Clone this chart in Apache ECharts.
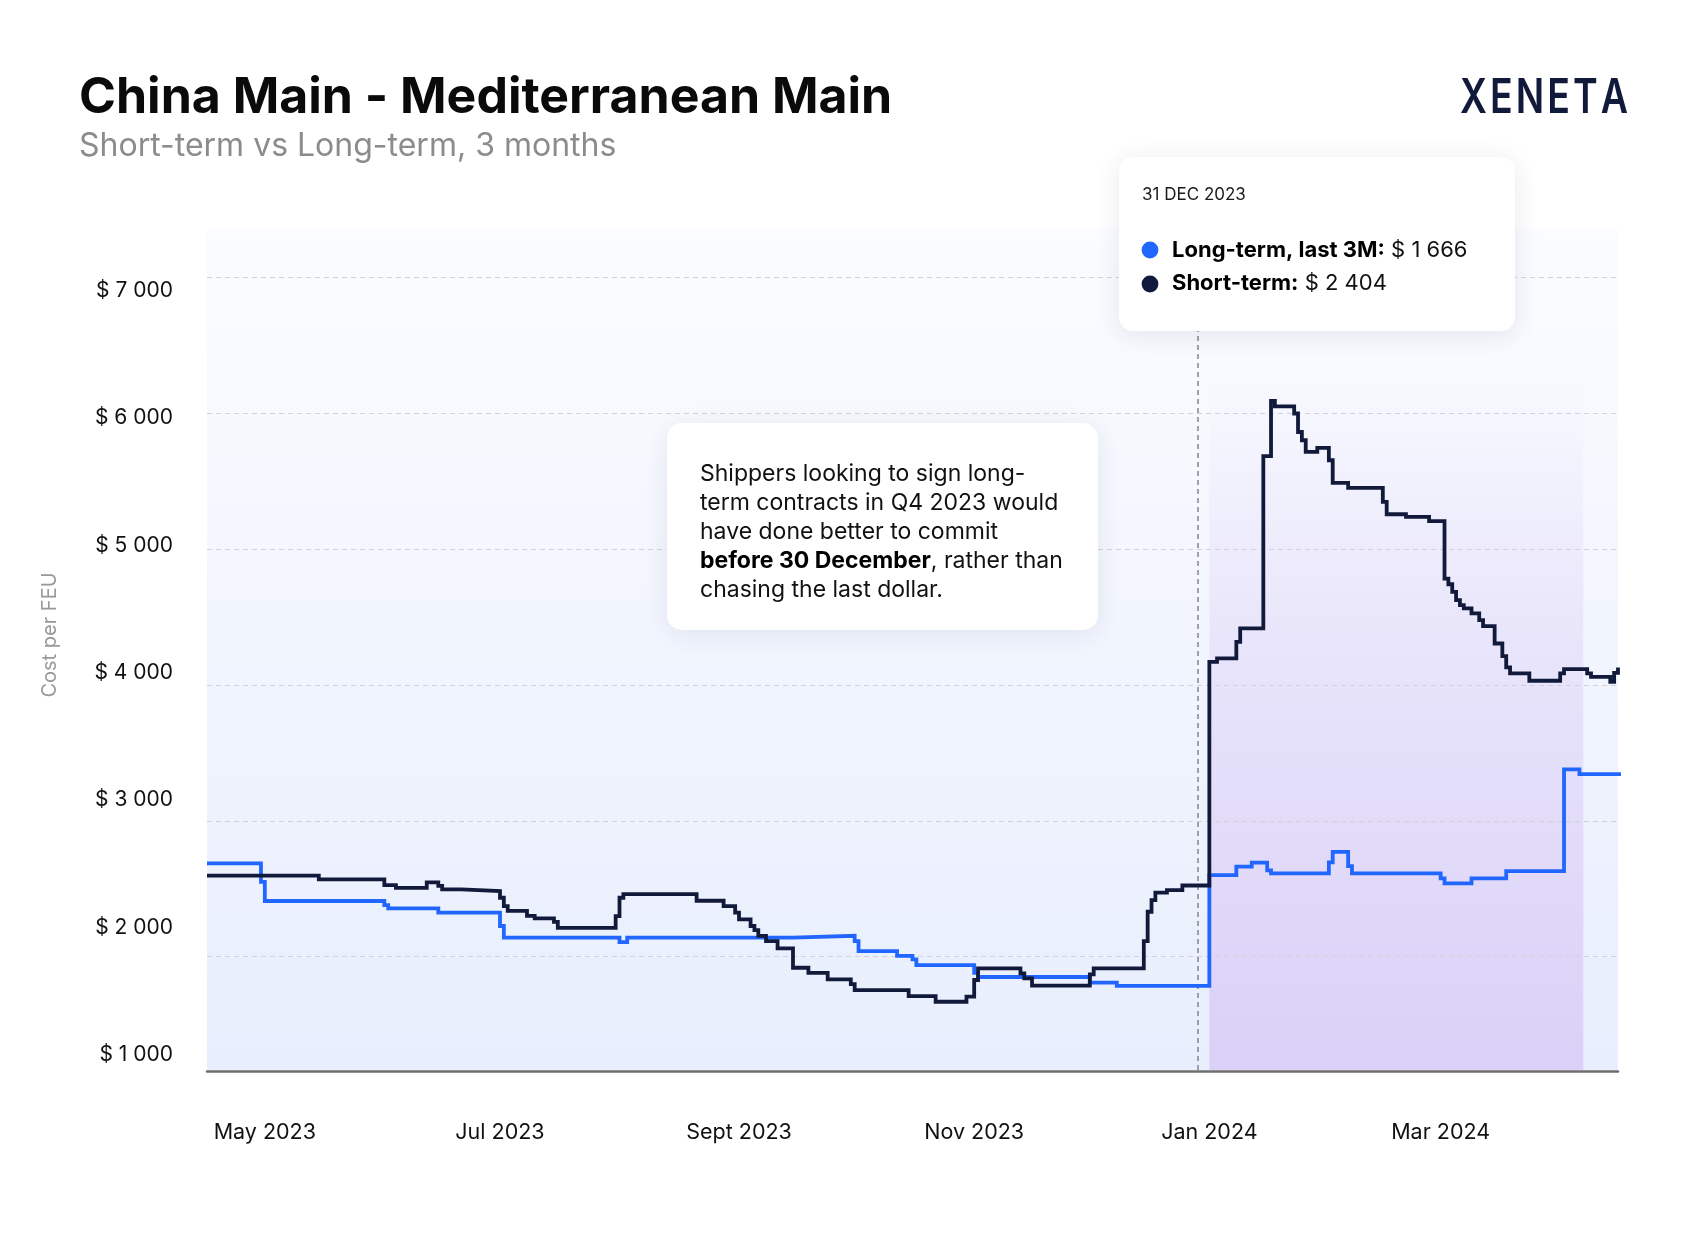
<!DOCTYPE html>
<html>
<head>
<meta charset="utf-8">
<script src="https://cdn.jsdelivr.net/npm/echarts@6/dist/echarts.min.js"></script>
<style>
html,body{margin:0;padding:0;background:#ffffff;}
#chart{width:1696px;height:1248px;}
</style>
</head>
<body>
<div id="chart"></div>
<script>
// ---------------- DATA ----------------
const longDates = [
  '2023-04-16','2023-04-30','2023-05-01','2023-06-01','2023-06-02','2023-06-15','2023-07-01','2023-07-02',
  '2023-08-01','2023-08-03','2023-09-15','2023-10-01','2023-10-02','2023-10-12','2023-10-16','2023-10-17',
  '2023-11-01','2023-11-02','2023-12-01','2023-12-08','2024-01-01','2024-01-08','2024-01-12','2024-01-16',
  '2024-01-17','2024-02-01','2024-02-02','2024-02-06','2024-02-07','2024-03-01','2024-03-02','2024-03-09',
  '2024-03-18','2024-04-02','2024-04-06','2024-04-17'
];
const longValues = [
  2567,2431,2290,2260,2236,2204,2106,2020,
  1988,2020,2034,1995,1922,1887,1861,1819,
  1762,1731,1689,1666,2481,2543,2573,2515,
  2493,2574,2652,2547,2493,2456,2420,2456,
  2510,3258,3223,3223
];
const shortDates = [
  '2023-04-16','2023-05-15','2023-06-01','2023-06-04','2023-06-12','2023-06-15','2023-06-16','2023-06-21',
  '2023-07-01','2023-07-02','2023-07-03','2023-07-08','2023-07-10','2023-07-15','2023-07-16','2023-07-31',
  '2023-08-01','2023-08-02','2023-08-21','2023-08-28','2023-08-31','2023-09-01','2023-09-04','2023-09-05',
  '2023-09-06','2023-09-08','2023-09-11','2023-09-15','2023-09-19','2023-09-24','2023-09-30','2023-10-01',
  '2023-10-15','2023-10-22','2023-10-30','2023-11-01','2023-11-02','2023-11-13','2023-11-14','2023-11-16',
  '2023-12-01','2023-12-02','2023-12-15','2023-12-16','2023-12-17','2023-12-18','2023-12-21','2023-12-25',
  '2024-01-01','2024-01-03','2024-01-08','2024-01-09','2024-01-15','2024-01-17','2024-01-18','2024-01-23',
  '2024-01-24','2024-01-25','2024-01-26','2024-01-29','2024-02-01','2024-02-02','2024-02-06','2024-02-15',
  '2024-02-16','2024-02-21','2024-02-27','2024-03-02','2024-03-03','2024-03-04','2024-03-05','2024-03-06',
  '2024-03-07','2024-03-09','2024-03-11','2024-03-12','2024-03-15','2024-03-17','2024-03-18','2024-03-19',
  '2024-03-24','2024-04-01','2024-04-02','2024-04-08','2024-04-09','2024-04-14','2024-04-15','2024-04-16'
];
const shortValues = [
  2476,2449,2407,2387,2427,2402,2376,2363,
  2314,2253,2218,2181,2162,2137,2093,2179,
  2314,2341,2292,2253,2204,2155,2106,2076,
  2034,1995,1942,1799,1762,1714,1679,1635,
  1591,1549,1586,1709,1795,1758,1721,1667,
  1751,1795,1995,2211,2297,2351,2370,2404,
  4049,4074,4196,4295,5562,5968,5929,5876,
  5740,5679,5593,5623,5532,5365,5329,5226,
  5135,5115,5084,4662,4620,4564,4503,4466,
  4442,4405,4356,4312,4184,4091,4008,3964,
  3910,3964,3995,3964,3939,3902,3968,4008
];
const xTickDates = ['2023-05-01','2023-07-01','2023-09-01','2023-11-01','2024-01-01','2024-03-01'];
const monthNames = ['Jan','Feb','Mar','Apr','May','Jun','Jul','Aug','Sept','Oct','Nov','Dec'];
const xStart = '2023-04-16';
const xEnd = '2024-04-16';
const markerDate = '2023-12-29';
const tooltipDate = '2023-12-31';
const highlightStart = '2024-01-01';
const highlightEnd = '2024-04-07';
const seriesNames = ['Long-term, last 3M', 'Short-term'];
const titleText = 'China Main - Mediterranean Main';
const subtitleText = 'Short-term vs Long-term, 3 months';
const yAxisTitle = 'Cost per FEU';
const logoText = 'XENETA';
const noteLines = [
  'Shippers looking to sign long-',
  'term contracts in Q4 2023 would',
  'have done better to commit',
  '{b|before 30 December}, rather than',
  'chasing the last dollar.'
];

// ---------------- HELPERS ----------------
function ts(s) { const p = s.split('-').map(Number); return new Date(p[0], p[1] - 1, p[2]).getTime(); }
function money(v) { return '$ ' + String(Math.round(v)).replace(/\B(?=(\d{3})+(?!\d))/g, ' '); }
function valueAt(dates, values, day) {
  const t = ts(day); let v = values[0];
  for (let i = 0; i < dates.length; i++) { if (ts(dates[i]) <= t) v = values[i]; }
  return v;
}
const FONT = 'Inter, "Noto Sans", sans-serif';
const BLUE = '#2166ff';
const NAVY = '#121a3b';

const longData = longDates.map((d, i) => [ts(d), longValues[i]]);
const shortData = shortDates.map((d, i) => [ts(d), shortValues[i]]);

const td = new Date(ts(tooltipDate));
const tooltipTitle = td.getDate() + ' ' + ['JAN','FEB','MAR','APR','MAY','JUN','JUL','AUG','SEP','OCT','NOV','DEC'][td.getMonth()] + ' ' + td.getFullYear();
const tipLong = valueAt(longDates, longValues, tooltipDate);
const tipShort = valueAt(shortDates, shortValues, tooltipDate);

// axis ranges (data axis gridlines every 1000 from min)
const Y_MIN = 880, Y_MAX = 7233, Y_BASE = 1047;

const chart = echarts.init(document.getElementById('chart'), null, { renderer: 'canvas' });

const option = {
  backgroundColor: '#ffffff',
  animation: false,
  grid: { left: 207, right: 78, top: 229, bottom: 155.3, containLabel: false },
  xAxis: {
    type: 'value',
    min: ts(xStart),
    max: ts(xEnd),
    offset: -21.7,
    z: 5,
    axisLine: { show: true, lineStyle: { color: '#6e6e6e', width: 2.5 } },
    axisTick: { show: false },
    splitLine: { show: false },
    axisLabel: {
      customValues: xTickDates.map(ts),
      formatter: function (v) { const d = new Date(v); return monthNames[d.getMonth()] + ' ' + d.getFullYear(); },
      color: '#111111', fontSize: 21.5, fontFamily: FONT, margin: 51, hideOverlap: false
    }
  },
  yAxis: [
    {
      type: 'value', min: Y_MIN, max: Y_MAX, interval: 1000, z: 2,
      axisLine: { show: false }, axisTick: { show: false }, axisLabel: { show: false },
      splitLine: { show: true, showMinLine: false, showMaxLine: false,
        lineStyle: { color: '#cfd2da', width: 1, type: [5, 4] } }
    },
    {
      type: 'value', min: 704, max: 7481, splitNumber: 7,
      position: 'left',
      axisLine: { show: false }, axisTick: { show: false }, splitLine: { show: false },
      axisLabel: {
        showMinLabel: false, showMaxLabel: false,
        formatter: function (v) { return (v % 1000 === 0) ? money(v) : ''; },
        color: '#111111', fontSize: 21, fontFamily: FONT, margin: 34
      }
    }
  ],
  series: [
    {
      name: seriesNames[0], type: 'line', step: 'end', data: longData,
      yAxisIndex: 0, showSymbol: false, clip: false, z: 3,
      lineStyle: { color: BLUE, width: 3.8, join: 'miter' }, itemStyle: { color: BLUE },
      markArea: {
        silent: true, z: 1,
        data: [
          [
            { xAxis: ts(xStart), yAxis: Y_BASE, itemStyle: { color: new echarts.graphic.LinearGradient(0, 0, 0, 1, [
              { offset: 0, color: '#fbfcff' }, { offset: 1, color: '#e8eefd' } ]) } },
            { xAxis: ts(xEnd), yAxis: Y_MAX }
          ],
          [
            { xAxis: ts(highlightStart), yAxis: Y_BASE, itemStyle: { color: new echarts.graphic.LinearGradient(0, 0, 0, 1, [
              { offset: 0, color: 'rgba(214,196,244,0)' }, { offset: 0.35, color: 'rgba(214,196,244,0.3)' }, { offset: 1, color: 'rgba(212,192,244,0.66)' } ]) } },
            { xAxis: ts(highlightEnd), yAxis: 6150 }
          ]
        ]
      },
      markLine: {
        silent: true, z: 2, symbol: 'none', label: { show: false },
        lineStyle: { color: '#8c8c8c', width: 1.6, type: [5, 4] },
        data: [[ { xAxis: ts(markerDate), yAxis: Y_BASE }, { xAxis: ts(markerDate), yAxis: Y_MAX } ]]
      }
    },
    {
      name: seriesNames[1], type: 'line', step: 'end', data: shortData,
      yAxisIndex: 0, showSymbol: false, clip: false, z: 4,
      lineStyle: { color: NAVY, width: 3.8, join: 'miter' }, itemStyle: { color: NAVY }
    }
  ],
  graphic: [
    { type: 'text', x: 79, y: 98, z: 100, style: { text: titleText, fill: '#0a0a0a', font: '700 50px ' + FONT, textAlign: 'left', textVerticalAlign: 'middle', align: 'left', verticalAlign: 'middle' } },
    { type: 'text', x: 79, y: 146, z: 100, style: { text: subtitleText, fill: '#8c8c8c', font: '400 32px ' + FONT, textAlign: 'left', textVerticalAlign: 'middle', align: 'left', verticalAlign: 'middle' } },
    { type: 'text', x: 1628, y: 99, z: 100, scaleX: 0.78, style: { text: logoText.split('').join('\u200A'), fill: NAVY, font: '600 48px ' + FONT, textAlign: 'right', textVerticalAlign: 'middle', align: 'right', verticalAlign: 'middle' } },
    { type: 'text', x: 50, y: 635, rotation: Math.PI / 2, z: 100, style: { text: yAxisTitle, fill: '#999999', font: '400 20px ' + FONT, textAlign: 'center', textVerticalAlign: 'middle', align: 'center', verticalAlign: 'middle' } },
    // annotation box
    { type: 'rect', z: 100, shape: { x: 667, y: 423, width: 431, height: 207, r: 15 },
      style: { fill: '#ffffff', shadowBlur: 26, shadowColor: 'rgba(30,40,90,0.09)', shadowOffsetY: 4 } },
    { type: 'text', x: 700, y: 460, z: 101, style: {
        text: noteLines.join('\n'), fill: '#111111', font: '400 23px ' + FONT, lineHeight: 28.8,
        textAlign: 'left', textVerticalAlign: 'top', align: 'left', verticalAlign: 'top',
        rich: { b: { font: '700 23px ' + FONT, fill: '#000000', lineHeight: 28.8 } } } },
    // tooltip box
    { type: 'rect', z: 100, shape: { x: 1119, y: 157, width: 396, height: 174, r: 14 },
      style: { fill: '#ffffff', shadowBlur: 26, shadowColor: 'rgba(30,40,90,0.10)', shadowOffsetY: 4 } },
    { type: 'text', x: 1142, y: 195, z: 101, style: { text: tooltipTitle, fill: '#1a1a1a', font: '400 17px ' + FONT, textAlign: 'left', textVerticalAlign: 'middle', align: 'left', verticalAlign: 'middle' } },
    { type: 'circle', z: 101, shape: { cx: 1150, cy: 250, r: 8.4 }, style: { fill: BLUE } },
    { type: 'circle', z: 101, shape: { cx: 1150, cy: 284, r: 8.4 }, style: { fill: NAVY } },
    { type: 'text', x: 1172, y: 250.5, z: 101, style: {
        text: '{b|' + seriesNames[0] + ':} ' + money(tipLong), fill: '#111111', font: '400 22px ' + FONT,
        textAlign: 'left', textVerticalAlign: 'middle', align: 'left', verticalAlign: 'middle',
        rich: { b: { font: '700 22px ' + FONT, fill: '#000000' } } } },
    { type: 'text', x: 1172, y: 283.5, z: 101, style: {
        text: '{b|' + seriesNames[1] + ':} ' + money(tipShort), fill: '#111111', font: '400 22px ' + FONT,
        textAlign: 'left', textVerticalAlign: 'middle', align: 'left', verticalAlign: 'middle',
        rich: { b: { font: '700 22px ' + FONT, fill: '#000000' } } } }
  ]
};
chart.setOption(option);
</script>
</body>
</html>
